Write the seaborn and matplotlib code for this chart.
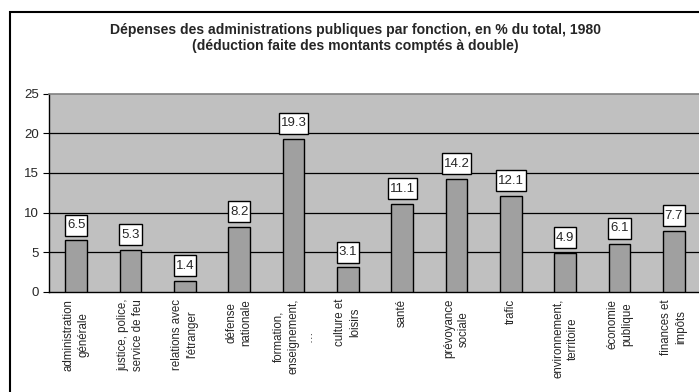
import matplotlib
matplotlib.use("Agg")
import matplotlib.pyplot as plt
from matplotlib.patches import Rectangle
from matplotlib.path import Path
import seaborn as sns
import pandas as pd

categories = [
    "administration\ngénérale",
    "justice, police,\nservice de feu",
    "relations avec\nl'étranger",
    "défense\nnationale",
    "formation,\nenseignement,\n…",
    "culture et\nloisirs",
    "santé",
    "prévoyance\nsociale",
    "trafic",
    "environnement,\nterritoire",
    "économie\npublique",
    "finances et\nimpôts",
]
values = [6.5, 5.3, 1.4, 8.2, 19.3, 3.1, 11.1, 14.2, 12.1, 4.9, 6.1, 7.7]
yticks = [0, 5, 10, 15, 20, 25]

sns.set_style("white")
plt.rcParams["font.family"] = ["Liberation Sans", "DejaVu Sans"]

W, H = 699, 392
fig = plt.figure(figsize=(W / 100, H / 100), dpi=100)
fig.patch.set_facecolor("white")

# Outer frame of the chart area
fig.patches.append(Rectangle((10 / W, -0.05), 1.2, 1 - 12 / H + 0.05,
                             transform=fig.transFigure, fill=False,
                             edgecolor="black", linewidth=1.5, zorder=0))

ax = fig.add_axes([49 / W, 1 - 292 / H, 652 / W, (292 - 93.5) / H])
ax.set_facecolor("#c0c0c0")

df = pd.DataFrame({"cat": categories, "val": values})
sns.barplot(data=df, x="cat", y="val", ax=ax, width=0.4, color="#a0a0a0",
            edgecolor="black", linewidth=1.0, saturation=1, zorder=3)

ax.set_ylim(0, 25)
ax.set_xlim(-0.5, len(categories) - 0.5)
ax.set_yticks(yticks)
ax.set_yticklabels([str(t) for t in yticks], fontsize=9.5)
for t in yticks[1:-1]:
    ax.axhline(t, color="black", linewidth=0.9, zorder=1)

ax.set_xticks(range(len(categories)))
ax.set_xticklabels(categories, rotation=90, fontsize=8.3, ha="center",
                   va="top", multialignment="center", linespacing=1.3)
ax.tick_params(axis="x", which="major", length=0, pad=5)
ax.set_xticks([i + 0.5 for i in range(-1, len(categories))], minor=True)
ax.tick_params(axis="x", which="minor", length=5, width=0.8, color="black",
               direction="out")
ax.tick_params(axis="y", length=4, width=0.8, color="black", direction="out",
               left=True, pad=3)
ax.set_xlabel("")
ax.set_ylabel("")

for s in ["left", "bottom"]:
    ax.spines[s].set_color("black")
    ax.spines[s].set_linewidth(1.0)
ax.spines["top"].set_color("#808080")
ax.spines["top"].set_linewidth(1.2)
ax.spines["right"].set_visible(False)


def label_box(x0, y0, width, height, mutation_size):
    """Rectangle with narrow side padding and taller top/bottom padding."""
    px, py = 2.0, 4.5
    x1, y1 = x0 - px, y0 - py
    x2, y2 = x0 + width + px, y0 + height + py
    verts = [(x1, y1), (x2, y1), (x2, y2), (x1, y2), (x1, y1)]
    codes = [Path.MOVETO, Path.LINETO, Path.LINETO, Path.LINETO, Path.CLOSEPOLY]
    return Path(verts, codes)


for i, v in enumerate(values):
    ax.annotate(f"{v:.1f}", xy=(i, v), xytext=(0, 11), textcoords="offset points",
                ha="center", va="center", fontsize=9.5, zorder=5,
                bbox=dict(boxstyle=label_box, facecolor="white",
                          edgecolor="black", linewidth=1.0))

fig.text(355 / W, 1 - 30 / H,
         "Dépenses des administrations publiques par fonction, en % du total, 1980",
         ha="center", va="center", fontsize=10.1, fontweight="bold")
fig.text(355 / W, 1 - 46 / H,
         "(déduction faite des montants comptés à double)",
         ha="center", va="center", fontsize=10.1, fontweight="bold")

fig.savefig("out.png", dpi=100)
